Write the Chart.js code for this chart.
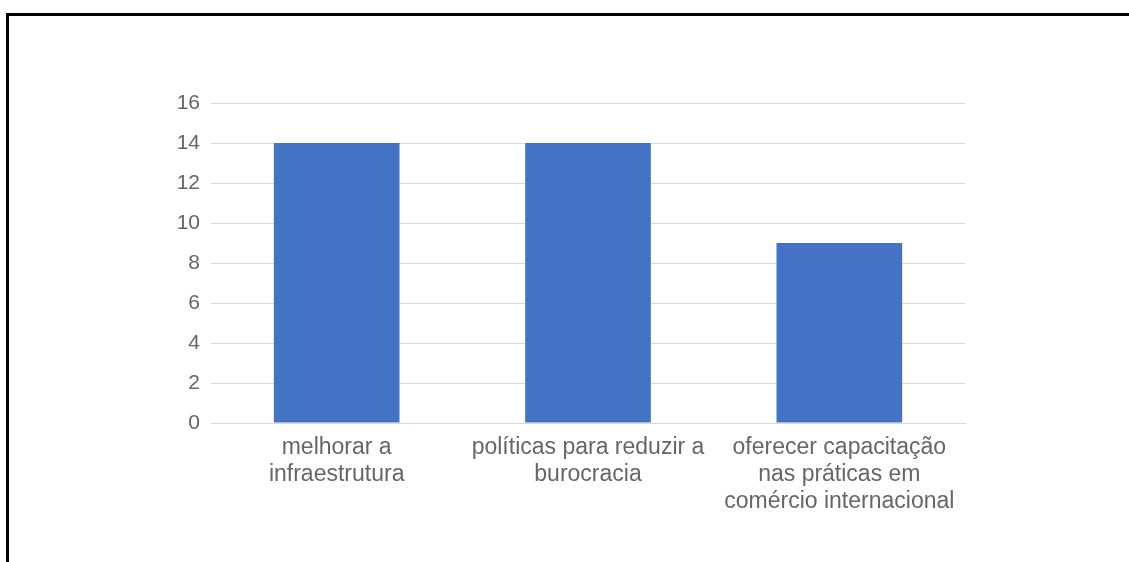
<!DOCTYPE html>
<html>
<head>
<meta charset="utf-8">
<script src="https://cdn.jsdelivr.net/npm/chart.js@4.4.0/dist/chart.umd.min.js"></script>
<style>
  html, body { margin: 0; padding: 0; background: #fff; }
  #wrap { position: relative; width: 1129px; height: 562px; overflow: hidden; }
  #frame {
    position: absolute; left: 6px; top: 13px; right: 0; bottom: -10px;
    border-top: 3px solid #000; border-left: 3px solid #000;
  }
  #chart { position: absolute; left: 0; top: 0; }
</style>
</head>
<body>
<div id="wrap">
  <div id="frame"></div>
  <canvas id="chart" width="1129" height="562"></canvas>
</div>
<script>
  'use strict';
  // categories, split into the lines they wrap to under each bar
  var categories = [
    ['melhorar a', 'infraestrutura'],
    ['políticas para reduzir a', 'burocracia'],
    ['oferecer capacitação', 'nas práticas em', 'comércio internacional']
  ];
  var counts = [14, 14, 9];
  var yTicks = [0, 2, 4, 6, 8, 10, 12, 14, 16];

  var textColor = '#666666';
  var family = 'Arial, "Liberation Sans", sans-serif';

  var ctx = document.getElementById('chart').getContext('2d');
  new Chart(ctx, {
    type: 'bar',
    data: {
      labels: categories,
      datasets: [{
        data: counts,
        backgroundColor: '#4472c4',
        borderWidth: 0,
        categoryPercentage: 1,
        barPercentage: 0.5
      }]
    },
    options: {
      responsive: false,
      animation: false,
      layout: { padding: { top: 103, right: 164, bottom: 0, left: 0 } },
      plugins: { legend: { display: false }, tooltip: { enabled: false } },
      scales: {
        x: {
          grid: { display: false, drawTicks: false },
          border: { display: true, color: '#d9d9d9', width: 1 },
          ticks: {
            color: textColor,
            font: { family: family, size: 23, lineHeight: 1.17 },
            padding: 11,
            maxRotation: 0,
            autoSkip: false
          },
          afterFit: function(scale) { scale.height = 139; }
        },
        y: {
          min: yTicks[0],
          max: yTicks[yTicks.length - 1],
          afterBuildTicks: function(scale) {
            scale.ticks = yTicks.map(function(v) { return { value: v }; });
          },
          grid: { color: '#d9d9d9', lineWidth: 1, drawTicks: false },
          border: { display: false },
          ticks: { color: textColor, font: { family: family, size: 21 }, padding: 11 },
          afterFit: function(scale) { scale.width = 211; }
        }
      }
    }
  });
</script>
</body>
</html>
